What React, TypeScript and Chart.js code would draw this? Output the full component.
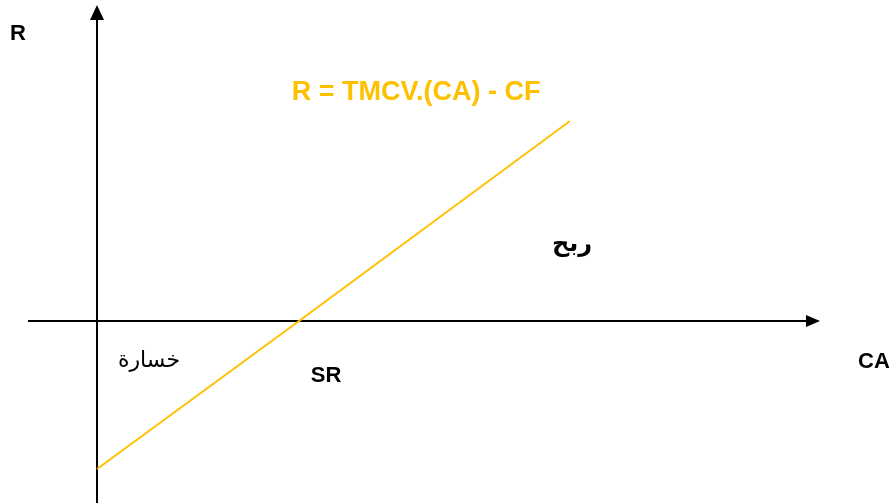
import React, { useEffect, useRef } from "react";
import { Chart, registerables } from "chart.js";

Chart.register(...registerables);

// Break-even (seuil de rentabilité) diagram data
const CA_VALUES = [0, 202, 473]; // chiffre d'affaires
const R_VALUES = [-148, 0, 200]; // résultat = TMCV·CA − CF
const LINE_COLOR = "#FFC000";

// Axis extents (data units)
const X_RANGE = [-97, 796];
const Y_RANGE = [-183, 321];
const X_AXIS_EXTENT = [-69, 723];
const Y_AXIS_EXTENT = [-182, 316];

// Text labels
const LABEL_TEXTS = ["R", "R = TMCV.(CA) - CF", "ربح", "خسارة", "SR", "CA"];
const LABEL_X = [-79, 319, 475, 52, 229, 777];
const LABEL_Y = [287, 228, 76, -40, -55, -41];
const LABEL_FONTS = [
  "bold 22px 'Liberation Sans', Arial, sans-serif",
  "bold 27px 'Liberation Sans', Arial, sans-serif",
  "bold 24px 'DejaVu Sans', sans-serif",
  "22px 'DejaVu Sans', sans-serif",
  "bold 22px 'Liberation Sans', Arial, sans-serif",
  "bold 22px 'Liberation Sans', Arial, sans-serif",
];
const LABEL_COLORS = ["#000", LINE_COLOR, "#000", "#000", "#000", "#000"];

const axesPlugin = {
  id: "axesArrows",
  beforeDatasetsDraw(chart: any) {
    const { ctx, scales } = chart;
    const xs = scales.x;
    const ys = scales.y;
    const y0 = ys.getPixelForValue(0);
    const x0 = xs.getPixelForValue(0);
    const xStart = xs.getPixelForValue(X_AXIS_EXTENT[0]);
    const xEnd = xs.getPixelForValue(X_AXIS_EXTENT[1]);
    const yBottom = ys.getPixelForValue(Y_AXIS_EXTENT[0]);
    const yTop = ys.getPixelForValue(Y_AXIS_EXTENT[1]);
    ctx.save();
    ctx.strokeStyle = "#000";
    ctx.fillStyle = "#000";
    ctx.lineWidth = 2;
    // x axis
    ctx.beginPath();
    ctx.moveTo(xStart, y0);
    ctx.lineTo(xEnd - 12, y0);
    ctx.stroke();
    ctx.beginPath();
    ctx.moveTo(xEnd, y0);
    ctx.lineTo(xEnd - 14, y0 - 6);
    ctx.lineTo(xEnd - 14, y0 + 6);
    ctx.closePath();
    ctx.fill();
    // y axis
    ctx.beginPath();
    ctx.moveTo(x0, yBottom);
    ctx.lineTo(x0, yTop + 12);
    ctx.stroke();
    ctx.beginPath();
    ctx.moveTo(x0, yTop);
    ctx.lineTo(x0 - 7, yTop + 15);
    ctx.lineTo(x0 + 7, yTop + 15);
    ctx.closePath();
    ctx.fill();
    ctx.restore();
  },
  afterDraw(chart: any) {
    const { ctx, scales } = chart;
    ctx.save();
    ctx.textAlign = "center";
    ctx.textBaseline = "middle";
    LABEL_TEXTS.forEach((t, i) => {
      ctx.font = LABEL_FONTS[i];
      ctx.fillStyle = LABEL_COLORS[i];
      ctx.fillText(
        t,
        scales.x.getPixelForValue(LABEL_X[i]),
        scales.y.getPixelForValue(LABEL_Y[i])
      );
    });
    ctx.restore();
  },
};

export default function App() {
  const ref = useRef<HTMLCanvasElement>(null);
  useEffect(() => {
    if (!ref.current) return;
    const chart = new Chart(ref.current, {
      type: "scatter",
      data: {
        datasets: [
          {
            data: CA_VALUES.map((x, i) => ({ x, y: R_VALUES[i] })),
            showLine: true,
            borderColor: LINE_COLOR,
            borderWidth: 2,
            pointRadius: 0,
            fill: false,
          },
        ],
      },
      options: {
        animation: false,
        responsive: false,
        devicePixelRatio: 1,
        layout: { padding: 0 },
        plugins: { legend: { display: false }, tooltip: { enabled: false } },
        scales: {
          x: { type: "linear", min: X_RANGE[0], max: X_RANGE[1], display: false },
          y: { type: "linear", min: Y_RANGE[0], max: Y_RANGE[1], display: false },
        },
      },
      plugins: [axesPlugin],
    });
    return () => chart.destroy();
  }, []);
  return (
    <div style={{ position: "fixed", left: 0, top: 0, width: 893, height: 504, background: "#fff" }}>
      <canvas ref={ref} width={893} height={504} style={{ display: "block" }} />
    </div>
  );
}
